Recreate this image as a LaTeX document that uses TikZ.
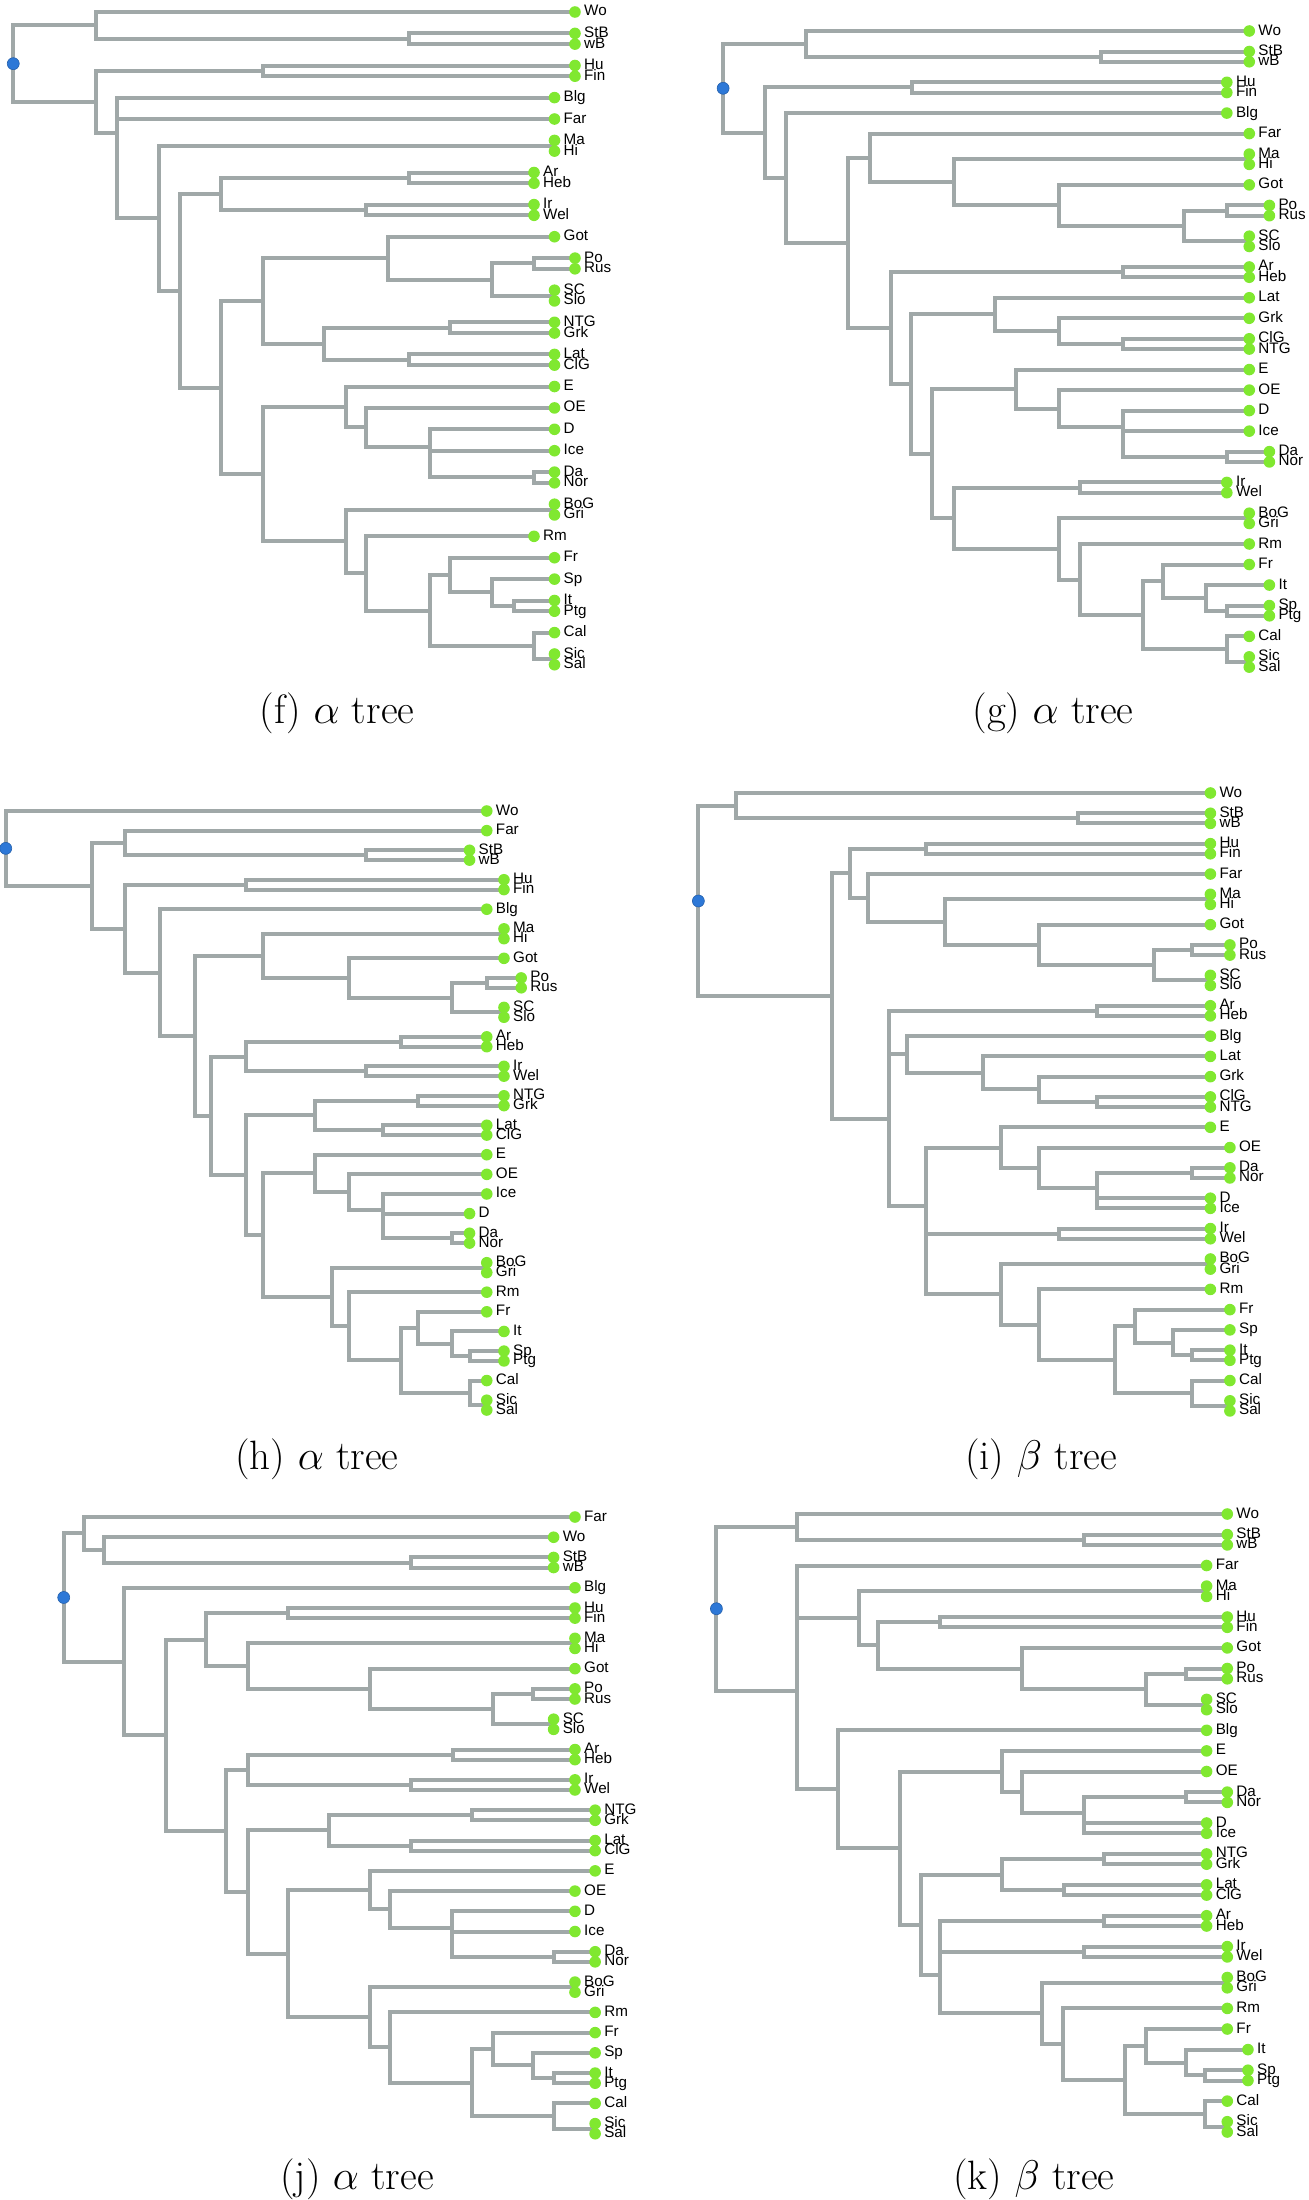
\documentclass[tikz,border=0pt]{standalone}
\usepackage{fontspec}
\usepackage{tikz}
\usetikzlibrary{calc}
\newfontfamily\lblfont{Liberation Sans}
\definecolor{branchgray}{RGB}{160,168,168}
\definecolor{leafgreen}{RGB}{128,232,48}
\definecolor{rootblue}{RGB}{45,120,215}
\pgfdeclarelayer{bg}
\pgfsetlayers{bg,main}
\tikzset{
  branch/.style={branchgray, line width=2pt},
  leafdot/.style={circle, fill=leafgreen, inner sep=0pt, minimum size=5.8pt},
  rootdot/.style={circle, fill=rootblue, draw=rootblue!80!black, line width=0.3pt, inner sep=0pt, minimum size=6pt},
  lbl/.style={font=\lblfont\fontsize{7.6}{8}\selectfont, anchor=base west, inner sep=0pt},
  subcap/.style={font=\fontsize{20.5}{24}\selectfont, anchor=base, inner sep=0pt}
}
\newcommand\leaf[4]{%
  \node[leafdot] (#1-#2) at (#3,\ybase+#4*\ystep) {};
  \node[lbl] (#1-#2-t) at ([xshift=4.4pt,yshift=-2pt]#1-#2.center) {#2};}
\newcommand\junc[5]{%
  \coordinate (jx) at (#3,0);
  \coordinate (jm) at ($(#1-#4)!.5!(#1-#5)$);
  \coordinate (#1-#2) at (jx |- jm);
  \begin{pgfonlayer}{bg}
    \draw[branch] (#1-#4.center) -| (#1-#2) |- (#1-#5.center);
  \end{pgfonlayer}}

\begin{document}
\begin{tikzpicture}[x=0.5pt,y=-0.5pt]
\useasboundingbox (0,0) rectangle (1308,2200);

% (f)
\begin{scope}[x=0.6027pt]
\def\ybase{12}\def\ystep{10.7}
\foreach \nm/\px/\rw in {Wo/477/0,StB/477/2,wB/477/3,Hu/477/5,Fin/477/6,Blg/460/8,Far/460/10,Ma/460/12,Hi/460/13,Ar/443/15,Heb/443/16,Ir/443/18,Wel/443/19,Got/460/21,Po/477/23,Rus/477/24,SC/460/26,Slo/460/27,NTG/460/29,Grk/460/30,Lat/460/32,ClG/460/33,E/460/35,OE/460/37,D/460/39,Ice/460/41,Da/460/43,Nor/460/44,BoG/460/46,Gri/460/47,Rm/443/49,Fr/460/51,Sp/460/53,It/460/55,Ptg/460/56,Cal/460/58,Sic/460/60,Sal/460/61}
  \leaf{f}{\nm}{\px}{\rw};
\junc{f}{sw}{339}{StB}{wB}
\junc{f}{a1}{80}{Wo}{sw}
\junc{f}{hf}{218}{Hu}{Fin}
\junc{f}{mh}{460}{Ma}{Hi}
\junc{f}{ah}{339}{Ar}{Heb}
\junc{f}{iw}{304}{Ir}{Wel}
\junc{f}{a6}{183}{ah}{iw}
\junc{f}{pr}{443}{Po}{Rus}
\junc{f}{scs}{460}{SC}{Slo}
\junc{f}{a12}{408}{pr}{scs}
\junc{f}{a10}{322}{Got}{a12}
\junc{f}{ng}{373}{NTG}{Grk}
\junc{f}{lc}{339}{Lat}{ClG}
\junc{f}{a11}{269}{ng}{lc}
\junc{f}{a8}{218}{a10}{a11}
\junc{f}{dn}{443}{Da}{Nor}
\junc{f}{a16b}{357}{Ice}{dn}
\junc{f}{a16}{357}{D}{a16b}
\junc{f}{a15}{304}{OE}{a16}
\junc{f}{a13}{287}{E}{a15}
\junc{f}{bg}{460}{BoG}{Gri}
\junc{f}{ip}{426}{It}{Ptg}
\junc{f}{a21}{408}{Sp}{ip}
\junc{f}{a19}{373}{Fr}{a21}
\junc{f}{sis}{460}{Sic}{Sal}
\junc{f}{a20}{443}{Cal}{sis}
\junc{f}{a18}{357}{a19}{a20}
\junc{f}{a17}{304}{Rm}{a18}
\junc{f}{a14}{287}{bg}{a17}
\junc{f}{a9}{218}{a13}{a14}
\junc{f}{a7}{183}{a8}{a9}
\junc{f}{a5}{149}{a6}{a7}
\junc{f}{a4}{132}{mh}{a5}
\junc{f}{a3b}{97}{Far}{a4}
\junc{f}{a3}{97}{Blg}{a3b}
\junc{f}{a2}{80}{hf}{a3}
\junc{f}{r}{11}{a1}{a2}
\node[rootdot] (f-root) at (f-r) {};
\end{scope}
\node[subcap] (capf) at (337,723) {(f) $\alpha$ tree};

% (g)
\begin{scope}[x=0.5912pt, xshift=-62.93pt]
\def\ybase{31}\def\ystep{10.26}
\foreach \nm/\px/\rw in {Wo/1163/0,StB/1163/2,wB/1163/3,Hu/1144/5,Fin/1144/6,Blg/1144/8,Far/1163/10,Ma/1163/12,Hi/1163/13,Got/1163/15,Po/1180/17,Rus/1180/18,SC/1163/20,Slo/1163/21,Ar/1163/23,Heb/1163/24,Lat/1163/26,Grk/1163/28,ClG/1163/30,NTG/1163/31,E/1163/33,OE/1163/35,D/1163/37,Ice/1163/39,Da/1180/41,Nor/1180/42,Ir/1144/44,Wel/1144/45,BoG/1163/47,Gri/1163/48,Rm/1163/50,Fr/1163/52,It/1180/54,Sp/1180/56,Ptg/1180/57,Cal/1163/59,Sic/1163/61,Sal/1163/62}
  \leaf{g}{\nm}{\px}{\rw};
\junc{g}{sw}{1038}{StB}{wB}
\junc{g}{g1}{788}{Wo}{sw}
\junc{g}{hf}{878}{Hu}{Fin}
\junc{g}{mh}{1163}{Ma}{Hi}
\junc{g}{pr}{1144}{Po}{Rus}
\junc{g}{scs}{1163}{SC}{Slo}
\junc{g}{g9}{1108}{pr}{scs}
\junc{g}{g8}{1002}{Got}{g9}
\junc{g}{g7}{913}{mh}{g8}
\junc{g}{g5}{842}{Far}{g7}
\junc{g}{ah}{1056}{Ar}{Heb}
\junc{g}{cn}{1056}{ClG}{NTG}
\junc{g}{g13}{1002}{Grk}{cn}
\junc{g}{g11}{948}{Lat}{g13}
\junc{g}{dn}{1144}{Da}{Nor}
\junc{g}{g17b}{1056}{Ice}{dn}
\junc{g}{g17}{1056}{D}{g17b}
\junc{g}{g16}{1002}{OE}{g17}
\junc{g}{g14}{966}{E}{g16}
\junc{g}{iw}{1020}{Ir}{Wel}
\junc{g}{bg}{1163}{BoG}{Gri}
\junc{g}{sp}{1144}{Sp}{Ptg}
\junc{g}{g23}{1126}{It}{sp}
\junc{g}{g21}{1090}{Fr}{g23}
\junc{g}{sis}{1163}{Sic}{Sal}
\junc{g}{g22}{1144}{Cal}{sis}
\junc{g}{g20}{1073}{g21}{g22}
\junc{g}{g19}{1020}{Rm}{g20}
\junc{g}{g18}{1002}{bg}{g19}
\junc{g}{g15}{913}{iw}{g18}
\junc{g}{g12}{895}{g14}{g15}
\junc{g}{g10}{877}{g11}{g12}
\junc{g}{g6}{860}{ah}{g10}
\junc{g}{g4}{824}{g5}{g6}
\junc{g}{g3}{771}{Blg}{g4}
\junc{g}{g2}{753}{hf}{g3}
\junc{g}{r}{718}{g1}{g2}
\node[rootdot] (g-root) at (g-r) {};
\end{scope}
\node[subcap] (capg) at (1053,723) {(g) $\alpha$ tree};

% (h)
\begin{scope}[x=0.574pt]
\def\ybase{811}\def\ystep{9.82}
\foreach \nm/\px/\rw in {Wo/424/0,Far/424/2,StB/409/4,wB/409/5,Hu/439/7,Fin/439/8,Blg/424/10,Ma/439/12,Hi/439/13,Got/439/15,Po/454/17,Rus/454/18,SC/439/20,Slo/439/21,Ar/424/23,Heb/424/24,Ir/439/26,Wel/439/27,NTG/439/29,Grk/439/30,Lat/424/32,ClG/424/33,E/424/35,OE/424/37,Ice/424/39,D/409/41,Da/409/43,Nor/409/44,BoG/424/46,Gri/424/47,Rm/424/49,Fr/424/51,It/439/53,Sp/439/55,Ptg/439/56,Cal/424/58,Sic/424/60,Sal/424/61}
  \leaf{h}{\nm}{\px}{\rw};
\junc{h}{sw}{319}{StB}{wB}
\junc{h}{h2}{109}{Far}{sw}
\junc{h}{hf}{214}{Hu}{Fin}
\junc{h}{mh}{439}{Ma}{Hi}
\junc{h}{pr}{424}{Po}{Rus}
\junc{h}{scs}{439}{SC}{Slo}
\junc{h}{h9}{394}{pr}{scs}
\junc{h}{h8}{304}{Got}{h9}
\junc{h}{h6}{229}{mh}{h8}
\junc{h}{ah}{349}{Ar}{Heb}
\junc{h}{iw}{319}{Ir}{Wel}
\junc{h}{h10}{214}{ah}{iw}
\junc{h}{ng}{364}{NTG}{Grk}
\junc{h}{lc}{334}{Lat}{ClG}
\junc{h}{h12}{274}{ng}{lc}
\junc{h}{dn}{394}{Da}{Nor}
\junc{h}{h17b}{334}{D}{dn}
\junc{h}{h17}{334}{Ice}{h17b}
\junc{h}{h16}{304}{OE}{h17}
\junc{h}{h14}{274}{E}{h16}
\junc{h}{bg}{424}{BoG}{Gri}
\junc{h}{sp}{409}{Sp}{Ptg}
\junc{h}{h22}{394}{It}{sp}
\junc{h}{h20}{364}{Fr}{h22}
\junc{h}{sis}{424}{Sic}{Sal}
\junc{h}{h21}{409}{Cal}{sis}
\junc{h}{h19}{349}{h20}{h21}
\junc{h}{h18}{304}{Rm}{h19}
\junc{h}{h15}{289}{bg}{h18}
\junc{h}{h13}{229}{h14}{h15}
\junc{h}{h11}{214}{h12}{h13}
\junc{h}{h7}{184}{h10}{h11}
\junc{h}{h5}{170}{h6}{h7}
\junc{h}{h4}{139}{Blg}{h5}
\junc{h}{h3}{109}{hf}{h4}
\junc{h}{h1}{80}{h2}{h3}
\junc{h}{r}{5}{Wo}{h1}
\node[rootdot] (h-root) at (h-r) {};
\end{scope}
\node[subcap] (caph) at (317,1469) {(h) $\alpha$ tree};

% (i)
\begin{scope}[x=0.574pt, xshift=-50.32pt]
\def\ybase{793}\def\ystep{10.13}
\foreach \nm/\px/\rw in {Wo/1142/0,StB/1142/2,wB/1142/3,Hu/1142/5,Fin/1142/6,Far/1142/8,Ma/1142/10,Hi/1142/11,Got/1142/13,Po/1159/15,Rus/1159/16,SC/1142/18,Slo/1142/19,Ar/1142/21,Heb/1142/22,Blg/1142/24,Lat/1142/26,Grk/1142/28,ClG/1142/30,NTG/1142/31,E/1142/33,OE/1159/35,Da/1159/37,Nor/1159/38,D/1142/40,Ice/1142/41,Ir/1142/43,Wel/1142/44,BoG/1142/46,Gri/1142/47,Rm/1142/49,Fr/1159/51,Sp/1159/53,It/1159/55,Ptg/1159/56,Cal/1159/58,Sic/1159/60,Sal/1159/61}
  \leaf{i}{\nm}{\px}{\rw};
\junc{i}{sw}{1027}{StB}{wB}
\junc{i}{i1}{729}{Wo}{sw}
\junc{i}{hf}{894}{Hu}{Fin}
\junc{i}{mh}{1142}{Ma}{Hi}
\junc{i}{pr}{1126}{Po}{Rus}
\junc{i}{scs}{1142}{SC}{Slo}
\junc{i}{i8}{1093}{pr}{scs}
\junc{i}{i7}{993}{Got}{i8}
\junc{i}{i6}{911}{mh}{i7}
\junc{i}{i5}{844}{Far}{i6}
\junc{i}{i3}{828}{hf}{i5}
\junc{i}{ah}{1043}{Ar}{Heb}
\junc{i}{cn}{1043}{ClG}{NTG}
\junc{i}{i13}{993}{Grk}{cn}
\junc{i}{i12}{944}{Lat}{i13}
\junc{i}{i10}{878}{Blg}{i12}
\junc{i}{i4b}{862}{ah}{i10}
\junc{i}{dn}{1126}{Da}{Nor}
\junc{i}{di}{1043}{D}{Ice}
\junc{i}{i17}{1043}{dn}{di}
\junc{i}{i16}{993}{OE}{i17}
\junc{i}{i14}{960}{E}{i16}
\junc{i}{iw}{1010}{Ir}{Wel}
\junc{i}{bg}{1142}{BoG}{Gri}
\junc{i}{ip}{1126}{It}{Ptg}
\junc{i}{i22}{1109}{Sp}{ip}
\junc{i}{i20}{1076}{Fr}{i22}
\junc{i}{sis}{1159}{Sic}{Sal}
\junc{i}{i21}{1126}{Cal}{sis}
\junc{i}{i19}{1059}{i20}{i21}
\junc{i}{i18}{993}{Rm}{i19}
\junc{i}{i15}{960}{bg}{i18}
\junc{i}{i11b}{894}{iw}{i15}
\junc{i}{i11}{894}{i14}{i11b}
\junc{i}{i4}{862}{i4b}{i11}
\junc{i}{i2}{812}{i3}{i4}
\junc{i}{r}{696}{i1}{i2}
\node[rootdot] (i-root) at (i-r) {};
\end{scope}
\node[subcap] (capi) at (1041,1469) {(i) $\beta$ tree};

% (j)
\begin{scope}[x=0.5931pt, xshift=-3.724pt]
\def\ybase{1517}\def\ystep{10.11}
\foreach \nm/\px/\rw in {Far/491/0,Wo/473/2,StB/473/4,wB/473/5,Blg/491/7,Hu/491/9,Fin/491/10,Ma/491/12,Hi/491/13,Got/491/15,Po/491/17,Rus/491/18,SC/473/20,Slo/473/21,Ar/491/23,Heb/491/24,Ir/491/26,Wel/491/27,NTG/508/29,Grk/508/30,Lat/508/32,ClG/508/33,E/508/35,OE/491/37,D/491/39,Ice/491/41,Da/508/43,Nor/508/44,BoG/491/46,Gri/491/47,Rm/508/49,Fr/508/51,Sp/508/53,It/508/55,Ptg/508/56,Cal/508/58,Sic/508/60,Sal/508/61}
  \leaf{j}{\nm}{\px}{\rw};
\junc{j}{sw}{353}{StB}{wB}
\junc{j}{j3}{94}{Wo}{sw}
\junc{j}{j1}{77}{Far}{j3}
\junc{j}{hf}{249}{Hu}{Fin}
\junc{j}{mh}{491}{Ma}{Hi}
\junc{j}{pr}{456}{Po}{Rus}
\junc{j}{scs}{473}{SC}{Slo}
\junc{j}{j9}{422}{pr}{scs}
\junc{j}{j8}{318}{Got}{j9}
\junc{j}{j7}{215}{mh}{j8}
\junc{j}{j5}{180}{hf}{j7}
\junc{j}{ah}{388}{Ar}{Heb}
\junc{j}{iw}{353}{Ir}{Wel}
\junc{j}{j10}{215}{ah}{iw}
\junc{j}{ng}{404}{NTG}{Grk}
\junc{j}{lc}{353}{Lat}{ClG}
\junc{j}{j12}{284}{ng}{lc}
\junc{j}{dn}{473}{Da}{Nor}
\junc{j}{j17b}{387}{Ice}{dn}
\junc{j}{j17}{387}{D}{j17b}
\junc{j}{j16}{335}{OE}{j17}
\junc{j}{j14}{318}{E}{j16}
\junc{j}{bg}{491}{BoG}{Gri}
\junc{j}{ip}{473}{It}{Ptg}
\junc{j}{j22}{456}{Sp}{ip}
\junc{j}{j20}{422}{Fr}{j22}
\junc{j}{sis}{508}{Sic}{Sal}
\junc{j}{j21}{473}{Cal}{sis}
\junc{j}{j19}{404}{j20}{j21}
\junc{j}{j18}{335}{Rm}{j19}
\junc{j}{j15}{318}{bg}{j18}
\junc{j}{j13}{249}{j14}{j15}
\junc{j}{j11}{215}{j12}{j13}
\junc{j}{j6}{197}{j10}{j11}
\junc{j}{j4}{146}{j5}{j6}
\junc{j}{j2}{111}{Blg}{j4}
\junc{j}{r}{60}{j1}{j2}
\node[rootdot] (j-root) at (j-r) {};
\end{scope}
\node[subcap] (capj) at (357,2189) {(j) $\alpha$ tree};

% (k)
\begin{scope}[x=0.574pt, xshift=-51.06pt]
\def\ybase{1514}\def\ystep{10.3}
\foreach \nm/\px/\rw in {Wo/1158/0,StB/1158/2,wB/1158/3,Far/1140/5,Ma/1140/7,Hi/1140/8,Hu/1158/10,Fin/1158/11,Got/1158/13,Po/1158/15,Rus/1158/16,SC/1140/18,Slo/1140/19,Blg/1140/21,E/1140/23,OE/1140/25,Da/1158/27,Nor/1158/28,D/1140/30,Ice/1140/31,NTG/1140/33,Grk/1140/34,Lat/1140/36,ClG/1140/37,Ar/1140/39,Heb/1140/40,Ir/1158/42,Wel/1158/43,BoG/1158/45,Gri/1158/46,Rm/1158/48,Fr/1158/50,It/1176/52,Sp/1176/54,Ptg/1176/55,Cal/1158/57,Sic/1158/59,Sal/1158/60}
  \leaf{k}{\nm}{\px}{\rw};
\junc{k}{sw}{1033}{StB}{wB}
\junc{k}{k1}{783}{Wo}{sw}
\junc{k}{mh}{1140}{Ma}{Hi}
\junc{k}{hf}{908}{Hu}{Fin}
\junc{k}{pr}{1122}{Po}{Rus}
\junc{k}{scs}{1140}{SC}{Slo}
\junc{k}{k7}{1087}{pr}{scs}
\junc{k}{k6}{979}{Got}{k7}
\junc{k}{k5}{854}{hf}{k6}
\junc{k}{k3}{837}{mh}{k5}
\junc{k}{k2b}{783}{Far}{k3}
\junc{k}{dn}{1122}{Da}{Nor}
\junc{k}{di}{1033}{D}{Ice}
\junc{k}{k12}{1033}{dn}{di}
\junc{k}{k11}{979}{OE}{k12}
\junc{k}{k9}{962}{E}{k11}
\junc{k}{ng}{1051}{NTG}{Grk}
\junc{k}{lc}{1016}{Lat}{ClG}
\junc{k}{k13}{962}{ng}{lc}
\junc{k}{ah}{1051}{Ar}{Heb}
\junc{k}{iw}{1033}{Ir}{Wel}
\junc{k}{k14b}{908}{ah}{iw}
\junc{k}{bg}{1158}{BoG}{Gri}
\junc{k}{sp}{1139}{Sp}{Ptg}
\junc{k}{k20}{1122}{It}{sp}
\junc{k}{k18}{1087}{Fr}{k20}
\junc{k}{sis}{1158}{Sic}{Sal}
\junc{k}{k19}{1139}{Cal}{sis}
\junc{k}{k17}{1069}{k18}{k19}
\junc{k}{k16}{1015}{Rm}{k17}
\junc{k}{k15}{997}{bg}{k16}
\junc{k}{k14}{908}{k14b}{k15}
\junc{k}{k10}{891}{k13}{k14}
\junc{k}{k8}{873}{k9}{k10}
\junc{k}{k4}{819}{Blg}{k8}
\junc{k}{k2}{783}{k2b}{k4}
\junc{k}{r}{713}{k1}{k2}
\node[rootdot] (k-root) at (k-r) {};
\end{scope}
\node[subcap] (capk) at (1034,2189) {(k) $\beta$ tree};
\end{tikzpicture}
\end{document}
